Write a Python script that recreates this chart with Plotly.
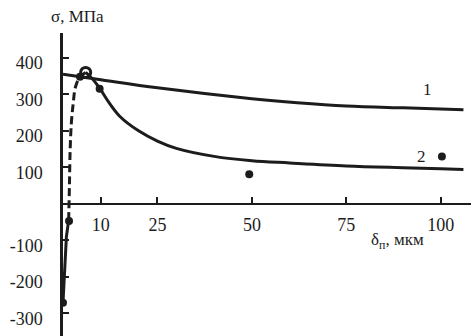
import plotly.graph_objects as go

# Curve 1
c1_x = [0, 10, 25, 50, 62, 75, 90, 100, 106]
c1_y = [355, 340, 318, 288, 277, 268, 263, 260, 258]

# Curve 2 (solid part)
c2_x = [6, 8, 10, 12, 15, 20, 25, 30, 40, 50, 60, 75, 90, 100, 106]
c2_y = [360, 340, 312, 280, 240, 200, 172, 152, 130, 118, 112, 104, 99, 96, 94]

# Curve 2 (dashed rising part)
c2d_x = [1.5, 1.7, 1.9, 2.2, 2.7, 3.3, 4.5, 6]
c2d_y = [-45, 50, 150, 220, 275, 320, 348, 360]

# Near-axis solid part
c2s_x = [0, 0.4, 0.9, 1.5]
c2s_y = [-270, -180, -90, -45]

# Experimental points
pts_x = [0, 1.6, 4.5, 9.7, 49.3, 100.3]
pts_y = [-271, -47, 348, 315, 81, 130]
peak_x = [6]
peak_y = [360]

x_ticks = [10, 25, 50, 75, 100]
y_ticks = [-300, -200, -100, 100, 200, 300, 400]

ink = "#1c1c1c"
font = "Liberation Serif"

fig = go.Figure()
fig.add_trace(go.Scatter(x=c1_x, y=c1_y, mode="lines", line=dict(color=ink, width=3, shape="spline")))
fig.add_trace(go.Scatter(x=c2_x, y=c2_y, mode="lines", line=dict(color=ink, width=3, shape="spline")))
fig.add_trace(go.Scatter(x=c2d_x, y=c2d_y, mode="lines", line=dict(color=ink, width=3, dash="8px,4px", shape="spline")))
fig.add_trace(go.Scatter(x=c2s_x, y=c2s_y, mode="lines", line=dict(color=ink, width=3)))
fig.add_trace(go.Scatter(x=pts_x, y=pts_y, mode="markers", marker=dict(color=ink, size=8)))
fig.add_trace(go.Scatter(x=peak_x, y=peak_y, mode="markers",
                         marker=dict(symbol="circle-open", color=ink, size=10, line=dict(width=3))))

fig.update_layout(
    width=474, height=336,
    margin=dict(l=63, r=3, t=33, b=0),
    paper_bgcolor="white", plot_bgcolor="white",
    showlegend=False,
    font=dict(family=font, size=18, color=ink),
    xaxis=dict(range=[0, 108], tickvals=x_ticks, ticktext=[str(v) for v in x_ticks],
               showgrid=False, zeroline=False, showline=True, linecolor=ink, linewidth=2,
               ticks="inside", ticklen=6, tickwidth=1.5, tickcolor=ink,
               anchor="free", position=362/830, ticklabelstandoff=5,
               tickfont=dict(family=font, size=18, color=ink)),
    yaxis=dict(range=[-362, 468], tickvals=y_ticks, ticktext=[str(v) for v in y_ticks],
               showgrid=False, zeroline=False, showline=True, linecolor=ink, linewidth=2.5,
               ticks="inside", ticklen=6, tickwidth=1.5, tickcolor=ink,
               ticklabelstandoff=14, ticklabelshift=5,
               tickfont=dict(family=font, size=18, color=ink)),
    annotations=[
        dict(text="σ, МПа", x=-0.034, y=1.015, xref="paper", yref="paper", showarrow=False,
             xanchor="left", yanchor="bottom", font=dict(family=font, size=17, color=ink)),
        dict(text="δ<sub>п</sub>, мкм", x=88.5, y=-102, xref="x", yref="y", showarrow=False,
             xanchor="center", yanchor="middle", font=dict(family=font, size=17, color=ink)),
        dict(text="1", x=96.5, y=312, xref="x", yref="y", showarrow=False,
             font=dict(family=font, size=17, color=ink)),
        dict(text="2", x=95, y=129, xref="x", yref="y", showarrow=False,
             font=dict(family=font, size=17, color=ink)),
    ],
)
fig.write_html("out.html")
